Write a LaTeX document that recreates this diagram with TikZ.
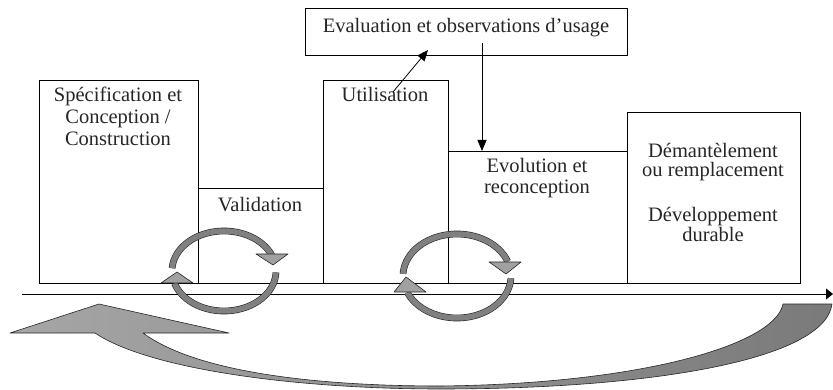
\documentclass[tikz,border=0pt]{standalone}
\usepackage{fontspec}
\setmainfont{Liberation Serif}
\usetikzlibrary{arrows.meta,calc}
\begin{document}
\begin{tikzpicture}[x=1pt,y=-1pt,
  box/.style={draw=black, line width=0.8pt, inner sep=0pt, anchor=north west},
  lbl/.style={font=\fontsize{20.5}{22}\selectfont, align=center, inner sep=0pt, anchor=base, text=black!85},
  shaft/.style={draw=black!85, line width=0.6pt, double=black!50, double distance=5.5pt},
  head/.style={draw=black!85, line width=0.6pt, fill=black!37, line join=round},
  conn/.style={line width=0.8pt, -{Triangle[length=11pt,width=9pt]}}]
\useasboundingbox (0,0) rectangle (833,390);
% boxes
\node[box, minimum width=322pt, minimum height=47pt] (eval) at (305,8) {};
\node[box, minimum width=159pt, minimum height=203pt] (spec) at (39,80) {};
\node[box, minimum width=125pt, minimum height=95pt] (valid) at (198,188) {};
\node[box, minimum width=125pt, minimum height=203pt] (util) at (323,80) {};
\node[box, minimum width=179pt, minimum height=132pt] (evol) at (448,151) {};
\node[box, minimum width=173pt, minimum height=171pt] (dem) at (627,112) {};
% labels (anchor=base is the baseline of the last line)
\node[lbl] (evaltxt) at (466,33) {Evaluation et observations d’usage};
\node[lbl] (spectxt) at (118,146) {Spécification et\\Conception /\\Construction};
\node[lbl] (validtxt) at (260,212) {Validation};
\node[lbl] (utiltxt) at (385,102) {Utilisation};
\node[lbl, font=\fontsize{20.5}{21}\selectfont] (evoltxt) at (537,194) {Evolution et\\reconception};
\node[lbl, font=\fontsize{20.5}{20}\selectfont] (demtxt) at (713,242) {Démantèlement\\ou remplacement\\[25pt]Développement\\durable};
% connectors
\coordinate (u1) at (393,92);
\coordinate (e1) at (428,50);
\coordinate (e2) at (482,43);
\draw[conn] (u1) -- (e1);
\draw[conn] (e2) -- (e2 |- evol.north);
% time axis
\coordinate (ax0) at (22,294);
\coordinate (ax1) at (833,294);
\draw[line width=0.8pt, -{Triangle[length=7pt,width=11pt]}] (ax0) -- (ax1);
% big return arrow
\path[draw=black!85, line width=0.6pt, left color=black!35, right color=black!52, line join=round]
  (99,304) -- (229,333) -- (143,333)
  .. controls (200,375) and (330,386) .. (440,386)
  .. controls (640,384) and (775,345) .. (783,304)
  -- (832,304)
  .. controls (825,360) and (650,389) .. (440,389)
  .. controls (300,389) and (150,370) .. (95,333)
  -- (10,333) -- cycle;
% loop 1
\draw[shaft] plot[domain=184:337, samples=50] ({224+52*cos(\x)},{271+40*sin(\x)});
\draw[shaft] plot[domain=2:162, samples=50] ({224+52*cos(\x)},{271+40*sin(\x)});
\draw[head] (256,254) -- (288,254) -- (273,265) -- cycle;
\draw[head] (161,283) -- (193,283) -- (177,272) -- cycle;
% loop 2
\draw[shaft] plot[domain=183:340, samples=50] ({457+54*cos(\x)},{276+42*sin(\x)});
\draw[shaft] plot[domain=3:157, samples=50] ({457+54*cos(\x)},{276+42*sin(\x)});
\draw[head] (489,262) -- (521,262) -- (506,274) -- cycle;
\draw[head] (394,292) -- (426,292) -- (406,277) -- cycle;
\end{tikzpicture}
\end{document}
